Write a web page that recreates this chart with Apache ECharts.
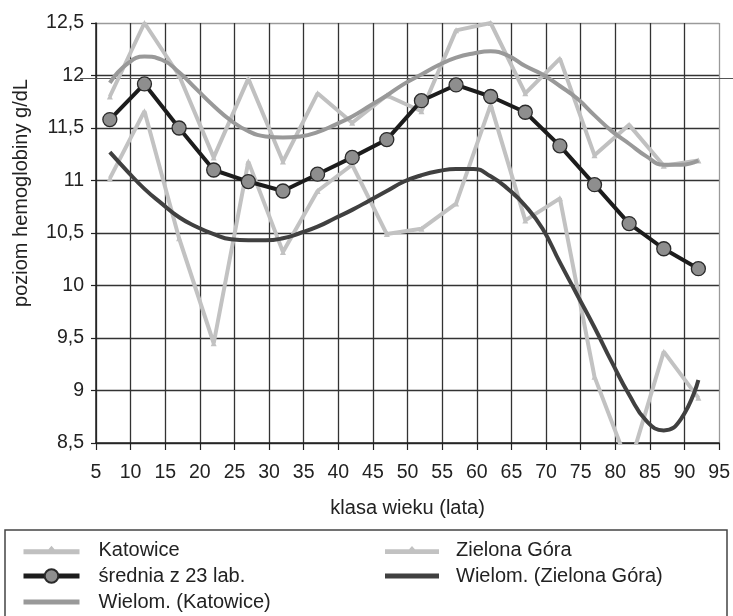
<!DOCTYPE html>
<html>
<head>
<meta charset="utf-8">
<title>Poziom hemoglobiny wg klasy wieku</title>
<script src="https://cdn.jsdelivr.net/npm/echarts@6/dist/echarts.min.js"></script>
<style>
  html, body { margin: 0; padding: 0; background: #fff; }
  #chart { width: 733px; height: 616px; }
</style>
</head>
<body>
<div id="chart"></div>
<script>
// Age classes (midpoints, years)
const ageClasses = [7, 12, 17, 22, 27, 32, 37, 42, 47, 52, 57, 62, 67, 72, 77, 82, 87, 92];

// Hemoglobin level, g/dL
const katowice    = [11.80, 12.50, 12.00, 11.22, 11.97, 11.18, 11.83, 11.55, 11.81, 11.66, 12.43, 12.50, 11.83, 12.16, 11.24, 11.53, 11.14, 11.19];
const zielonaGora = [11.02, 11.66, 10.45, 9.45, 11.18, 10.32, 10.90, 11.15, 10.49, 10.54, 10.78, 11.72, 10.62, 10.83, 9.13, 8.27, 9.37, 8.93];
const srednia     = [11.58, 11.92, 11.50, 11.10, 10.99, 10.90, 11.06, 11.22, 11.39, 11.76, 11.91, 11.80, 11.65, 11.33, 10.96, 10.59, 10.35, 10.16];

// Polynomial trend curves, sampled along the age axis
const trendAges = [7, 9.5, 12, 14.5, 17, 19.5, 22, 24.5, 27, 29.5, 32, 34.5, 37, 39.5, 42, 44.5, 47, 49.5, 52, 54.5, 57, 59.5, 62, 64.5, 67, 69.5, 72, 74.5, 77, 79.5, 82, 84.5, 87, 89.5, 92];
const trendKatowice = [11.93, 12.11, 12.18, 12.15, 12.03, 11.87, 11.71, 11.57, 11.47, 11.42, 11.41, 11.42, 11.46, 11.53, 11.61, 11.71, 11.81, 11.92, 12.01, 12.10, 12.17, 12.21, 12.23, 12.19, 12.09, 12.01, 11.90, 11.78, 11.62, 11.47, 11.35, 11.23, 11.15, 11.15, 11.19];
const trendZielonaGora = [11.27, 11.09, 10.92, 10.78, 10.65, 10.56, 10.49, 10.44, 10.43, 10.43, 10.45, 10.50, 10.56, 10.64, 10.72, 10.81, 10.90, 10.99, 11.05, 11.09, 11.11, 11.11, 11.04, 10.92, 10.76, 10.54, 10.22, 9.91, 9.60, 9.27, 8.96, 8.71, 8.62, 8.73, 9.10];

// Axis ranges
const xMin = 5, xMax = 95, xStep = 5;
const yMin = 8.5, yMax = 12.5, yStep = 0.5;

const pairs = (xs, ys) => xs.map((x, i) => [x, ys[i]]);
const FONT = '"Liberation Sans", Arial, sans-serif';
const TEXT = '#222';

// legend glyphs: a plain thick bar, and a bar with a small triangle marker
const ICON_BAR = 'path://M0,0H56V5H0Z';
const ICON_BAR_TRIANGLE = 'path://M0,4H25L28,0.5L31,4H56V9H0Z';

const yLineCount = Math.round((yMax - yMin) / yStep) + 1;
const xLineCount = Math.round((xMax - xMin) / xStep) + 1;
// inner grid lines are dark, the frame lines along the top and right are lighter
const yGridColors = Array.from({ length: yLineCount }, (_, i) => i === yLineCount - 1 ? '#9a9a9a' : '#333');
const xGridColors = Array.from({ length: xLineCount }, (_, i) => i === xLineCount - 1 ? '#9a9a9a' : '#333');

const chart = echarts.init(document.getElementById('chart'), null, { renderer: 'canvas' });

chart.setOption({
  animation: false,
  backgroundColor: '#fff',
  textStyle: { fontFamily: FONT, color: TEXT },
  grid: { left: 96, right: 12, top: 23, bottom: 173, containLabel: false },
  xAxis: {
    type: 'value',
    min: xMin, max: xMax, interval: xStep,
    name: 'klasa wieku (lata)',
    nameLocation: 'middle',
    nameGap: 55,
    nameTextStyle: { fontSize: 20, color: TEXT, fontFamily: FONT },
    axisLine: { show: true, onZero: false, lineStyle: { color: '#222', width: 1.5 } },
    axisTick: { show: true, inside: false, length: 7, lineStyle: { color: '#222', width: 1.2 } },
    axisLabel: { fontSize: 19.5, color: TEXT, margin: 20, fontFamily: FONT },
    splitLine: { show: true, lineStyle: { color: xGridColors, width: 1.3 } }
  },
  yAxis: {
    type: 'value',
    min: yMin, max: yMax, interval: yStep,
    axisLine: { show: true, onZero: false, lineStyle: { color: '#222', width: 1.5 } },
    axisTick: { show: true, inside: false, length: 5, lineStyle: { color: '#222', width: 1.2 } },
    axisLabel: {
      fontSize: 19.5, color: TEXT, margin: 12, fontFamily: FONT,
      formatter: v => String(+v.toFixed(1)).replace('.', ',')
    },
    splitLine: { show: true, lineStyle: { color: yGridColors, width: 1.3 } }
  },
  legend: [
    {
      orient: 'vertical', left: 21, top: 540, padding: 0, itemGap: 6,
      itemWidth: 56, itemHeight: 17,
      lineStyle: { width: 5 },
      textStyle: { fontSize: 20, color: TEXT, fontFamily: FONT, padding: [0, 0, 0, 14] },
      data: [
        { name: 'Katowice', icon: ICON_BAR_TRIANGLE },
        { name: 'średnia z 23 lab.' },
        { name: 'Wielom. (Katowice)', icon: ICON_BAR }
      ]
    },
    {
      orient: 'vertical', left: 385, top: 540, padding: 0, itemGap: 6,
      itemWidth: 54, itemHeight: 17,
      lineStyle: { width: 5 },
      textStyle: { fontSize: 20, color: TEXT, fontFamily: FONT, padding: [0, 0, 0, 12] },
      data: [
        { name: 'Zielona Góra', icon: ICON_BAR_TRIANGLE },
        { name: 'Wielom. (Zielona Góra)', icon: ICON_BAR }
      ]
    }
  ],
  graphic: [
    {
      type: 'text',
      x: 21, y: 193, rotation: Math.PI / 2,
      style: { text: 'poziom hemoglobiny g/dL', font: '20px ' + FONT, fill: TEXT, textAlign: 'center', textVerticalAlign: 'middle' }
    },
    {
      // double rule just under the 12 g/dL level
      type: 'line', shape: { x1: 80, y1: 78.5, x2: 733, y2: 78.5 },
      style: { stroke: '#555', lineWidth: 1.2 }, z: 1
    },
    {
      type: 'rect', shape: { x: 5, y: 530, width: 722, height: 120 },
      style: { fill: 'none', stroke: '#444', lineWidth: 1.5 }
    }
  ],
  series: [
    {
      name: 'Katowice', type: 'line', data: pairs(ageClasses, katowice),
      symbol: 'triangle', symbolSize: 6, showSymbol: true,
      lineStyle: { color: '#c0c0c0', width: 4 },
      itemStyle: { color: '#c0c0c0' }, z: 2
    },
    {
      name: 'Zielona Góra', type: 'line', data: pairs(ageClasses, zielonaGora),
      symbol: 'triangle', symbolSize: 6, showSymbol: true,
      lineStyle: { color: '#c2c2c2', width: 4 },
      itemStyle: { color: '#c2c2c2' }, z: 2
    },
    {
      name: 'średnia z 23 lab.', type: 'line', data: pairs(ageClasses, srednia),
      symbol: 'circle', symbolSize: 14, showSymbol: true,
      lineStyle: { color: '#1c1c1c', width: 4 },
      itemStyle: { color: '#8e8e8e', borderColor: '#2a2a2a', borderWidth: 1.3 }, z: 4
    },
    {
      name: 'Wielom. (Katowice)', type: 'line', data: pairs(trendAges, trendKatowice),
      smooth: true, symbol: 'none',
      lineStyle: { color: '#999', width: 4 },
      itemStyle: { color: '#999' }, z: 3
    },
    {
      name: 'Wielom. (Zielona Góra)', type: 'line', data: pairs(trendAges, trendZielonaGora),
      smooth: true, symbol: 'none',
      lineStyle: { color: '#404040', width: 4 },
      itemStyle: { color: '#404040' }, z: 3
    }
  ]
});
</script>
</body>
</html>
